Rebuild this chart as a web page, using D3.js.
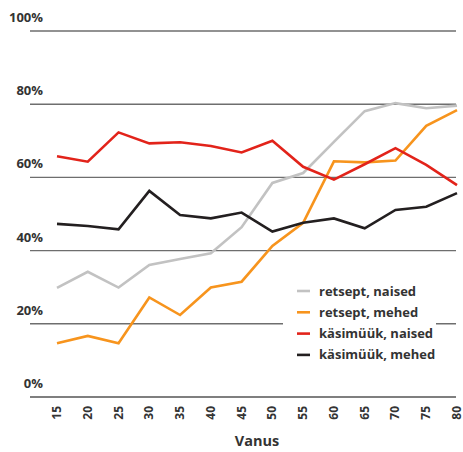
<!DOCTYPE html>
<html>
<head>
<meta charset="utf-8">
<script src="https://cdn.jsdelivr.net/npm/d3@7"></script>
<style>
  body { margin: 0; background: #fff; }
  text { font-family: "Open Sans", "Noto Sans", sans-serif; font-weight: 700; fill: #333; }
</style>
</head>
<body>
<svg id="chart" width="463" height="452"></svg>
<script>
const ages = [15, 20, 25, 30, 35, 40, 45, 50, 55, 60, 65, 70, 75, 80]
const yTicks = [0, 20, 40, 60, 80, 100]

const retseptNaised = [29.8, 34.2, 29.9, 36.1, 37.7, 39.3, 46.4, 58.5, 61.2, 69.7, 78.1, 80.3, 78.9, 79.6]
const retseptMehed = [14.7, 16.7, 14.7, 27.2, 22.4, 29.9, 31.5, 41.3, 47.6, 64.4, 64.1, 64.6, 74.1, 78.4]
const kasimuukNaised = [65.8, 64.3, 72.3, 69.3, 69.6, 68.6, 66.8, 70.0, 62.9, 59.4, 63.6, 68.0, 63.4, 57.9]
const kasimuukMehed = [47.3, 46.7, 45.8, 56.3, 49.7, 48.8, 50.4, 45.2, 47.6, 48.8, 46.1, 51.1, 52.0, 55.7]

const series = [
  { name: 'retsept, naised', values: retseptNaised, color: '#c2c2c2' },
  { name: 'retsept, mehed', values: retseptMehed, color: '#f7941d' },
  { name: 'käsimüük, naised', values: kasimuukNaised, color: '#e2231a' },
  { name: 'käsimüük, mehed', values: kasimuukMehed, color: '#231f20' },
]

const svg = d3.select('#chart')

const x = d3.scaleLinear().domain([15, 80]).range([57, 457])
const y = d3.scaleLinear().domain([0, 100]).range([397, 31])

// gridlines + labels sitting above them
const grid = svg.append('g')
grid.selectAll('line')
  .data(yTicks)
  .enter()
  .append('line')
  .attr('x1', 30)
  .attr('x2', 456)
  .attr('y1', (d) => y(d))
  .attr('y2', (d) => y(d))
  .attr('stroke', (d) => (d === 0 ? '#555' : '#6e6e6e'))
  .attr('stroke-width', 1.4)

grid.selectAll('text')
  .data(yTicks)
  .enter()
  .append('text')
  .attr('x', 43)
  .attr('y', (d) => y(d) - 9)
  .attr('text-anchor', 'end')
  .attr('font-size', 13)
  .text((d) => d + '%')

// x tick labels, rotated
svg.append('g')
  .selectAll('text')
  .data(ages)
  .enter()
  .append('text')
  .attr('transform', (d) => `translate(${x(d) + 4},406) rotate(-90)`)
  .attr('text-anchor', 'end')
  .attr('font-size', 12)
  .text((d) => d)

svg.append('text')
  .attr('x', 257)
  .attr('y', 446)
  .attr('text-anchor', 'middle')
  .attr('font-size', 14.5)
  .text('Vanus')

const line = d3.line()
  .x((d, i) => x(ages[i]))
  .y((d) => y(d))

svg.append('g')
  .selectAll('path')
  .data(series)
  .enter()
  .append('path')
  .attr('d', (d) => line(d.values))
  .attr('fill', 'none')
  .attr('stroke', (d) => d.color)
  .attr('stroke-width', 2.6)
  .attr('stroke-linejoin', 'miter')

// legend
const legend = svg.append('g')
legend.append('rect')
  .attr('x', 283)
  .attr('y', 280)
  .attr('width', 153)
  .attr('height', 86)
  .attr('fill', '#fff')

const item = legend.selectAll('g.item')
  .data(series)
  .enter()
  .append('g')
  .attr('class', 'item')
  .attr('transform', (d, i) => `translate(0,${291 + i * 21.3})`)

item.append('line')
  .attr('x1', 297)
  .attr('x2', 310)
  .attr('stroke', (d) => d.color)
  .attr('stroke-width', 2.6)

item.append('text')
  .attr('x', 319)
  .attr('y', 4.5)
  .attr('font-size', 13)
  .text((d) => d.name)
</script>
</body>
</html>
